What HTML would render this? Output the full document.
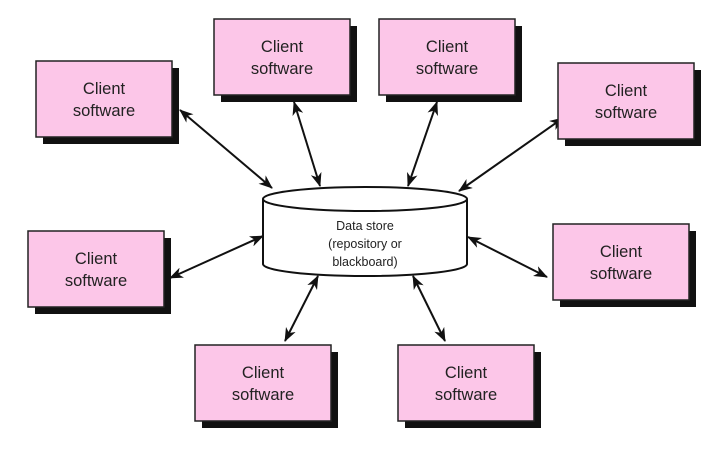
<!DOCTYPE html>
<html><head><style>
html,body{margin:0;padding:0;background:#fff;}
svg text{font-family:"Liberation Sans",sans-serif;fill:#222;}
</style></head><body>
<svg width="717" height="444" viewBox="0 0 717 444" xmlns="http://www.w3.org/2000/svg">
<defs>
<marker id="a" viewBox="0 0 14 11" refX="13" refY="5.5" markerWidth="14" markerHeight="11" markerUnits="userSpaceOnUse" orient="auto-start-reverse">
<path d="M0,0 L14,5.5 L0,11 L4,5.5 Z" fill="#111"/>
</marker>
</defs>
<g stroke="#111" stroke-width="2" marker-start="url(#a)" marker-end="url(#a)">
<line x1="180" y1="110" x2="272" y2="188"/>
<line x1="294" y1="102" x2="320" y2="186"/>
<line x1="437" y1="102" x2="408" y2="186"/>
<line x1="563" y1="118" x2="459" y2="191"/>
<line x1="170" y1="278" x2="263" y2="236"/>
<line x1="547" y1="277" x2="468" y2="237"/>
<line x1="285" y1="341" x2="318" y2="276"/>
<line x1="445" y1="341" x2="413" y2="276"/>
</g>
<g>
<path d="M263,199 L263,264 A102,12 0 0 0 467,264 L467,199" fill="#fff" stroke="#111" stroke-width="2"/>
<ellipse cx="365" cy="199" rx="102" ry="12" fill="#fff" stroke="#111" stroke-width="2"/>
<text x="365" y="230" font-size="12.5" text-anchor="middle">Data store</text>
<text x="365" y="248" font-size="12.5" text-anchor="middle">(repository or</text>
<text x="365" y="266" font-size="12.5" text-anchor="middle">blackboard)</text>
</g>
<g font-size="16.5" text-anchor="middle">
<g transform="translate(36,61)"><rect x="7" y="7" width="136" height="76" fill="#111"/><rect x="0" y="0" width="136" height="76" fill="#fcc6e8" stroke="#222" stroke-width="1.5"/><text x="68" y="33">Client</text><text x="68" y="55">software</text></g>
<g transform="translate(214,19)"><rect x="7" y="7" width="136" height="76" fill="#111"/><rect x="0" y="0" width="136" height="76" fill="#fcc6e8" stroke="#222" stroke-width="1.5"/><text x="68" y="33">Client</text><text x="68" y="55">software</text></g>
<g transform="translate(379,19)"><rect x="7" y="7" width="136" height="76" fill="#111"/><rect x="0" y="0" width="136" height="76" fill="#fcc6e8" stroke="#222" stroke-width="1.5"/><text x="68" y="33">Client</text><text x="68" y="55">software</text></g>
<g transform="translate(558,63)"><rect x="7" y="7" width="136" height="76" fill="#111"/><rect x="0" y="0" width="136" height="76" fill="#fcc6e8" stroke="#222" stroke-width="1.5"/><text x="68" y="33">Client</text><text x="68" y="55">software</text></g>
<g transform="translate(28,231)"><rect x="7" y="7" width="136" height="76" fill="#111"/><rect x="0" y="0" width="136" height="76" fill="#fcc6e8" stroke="#222" stroke-width="1.5"/><text x="68" y="33">Client</text><text x="68" y="55">software</text></g>
<g transform="translate(553,224)"><rect x="7" y="7" width="136" height="76" fill="#111"/><rect x="0" y="0" width="136" height="76" fill="#fcc6e8" stroke="#222" stroke-width="1.5"/><text x="68" y="33">Client</text><text x="68" y="55">software</text></g>
<g transform="translate(195,345)"><rect x="7" y="7" width="136" height="76" fill="#111"/><rect x="0" y="0" width="136" height="76" fill="#fcc6e8" stroke="#222" stroke-width="1.5"/><text x="68" y="33">Client</text><text x="68" y="55">software</text></g>
<g transform="translate(398,345)"><rect x="7" y="7" width="136" height="76" fill="#111"/><rect x="0" y="0" width="136" height="76" fill="#fcc6e8" stroke="#222" stroke-width="1.5"/><text x="68" y="33">Client</text><text x="68" y="55">software</text></g>
</g>
</svg>
</body></html>
